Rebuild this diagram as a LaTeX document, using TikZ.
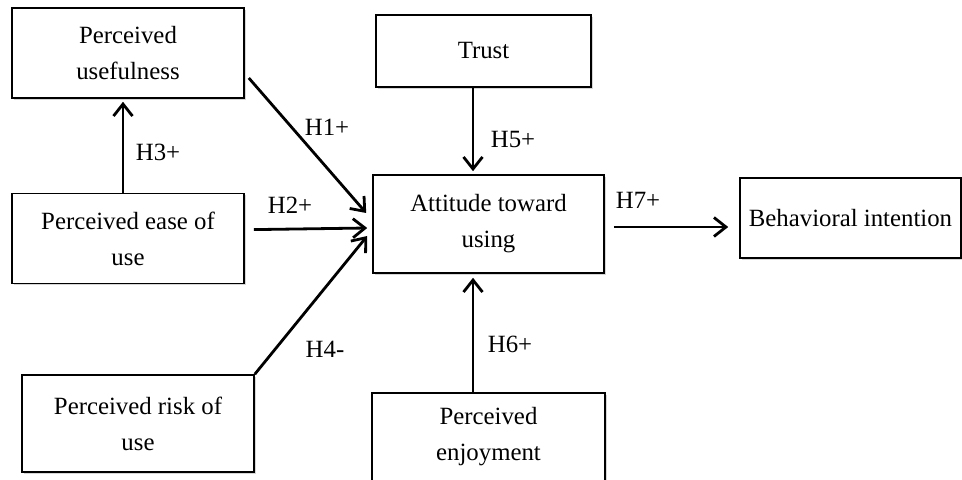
\documentclass[tikz,border=0pt]{standalone}
\usepackage{fontspec}
\setmainfont{Liberation Serif}
\usetikzlibrary{arrows.meta, positioning, shadows}
\definecolor{cShadow}{RGB}{120,120,120}
\tikzset{
	construct/.style={rectangle, draw=black, line width=0.8pt, fill=white, inner sep=0pt, align=center, text centered,
		drop shadow={shadow xshift=0.8pt, shadow yshift=-0.8pt, opacity=0.3, fill=cShadow}},
	hypo/.style     ={-{Straight Barb[length=6pt, width=9.5pt]}, line width=1.4pt},
	hlabel/.style   ={inner sep=1pt},
}
\begin{document}
\begin{tikzpicture}[x=0.5pt, y=-0.5pt, every node/.style={font=\fontsize{12.4}{18}\selectfont}]
	\useasboundingbox (0,0) rectangle (962,480);
	\node[construct, minimum width=116pt, minimum height=45pt] (pu) at (128,53) {Perceived\\ usefulness};
	\node[construct, minimum width=116pt, minimum height=45pt, below=47pt of pu] (peou) {Perceived ease of\\ use};
	\node[construct, minimum width=116pt, minimum height=48.5pt] (pru) at (138,423.5) {Perceived risk of\\ use};
	\node[construct, minimum width=115.5pt, minimum height=49pt] (atu) at (488.5,224) {Attitude toward\\ using};
	\node[construct, minimum width=107.5pt, minimum height=36pt] (trust) at (483.5,51) {Trust};
	\node[construct, minimum width=116.5pt, minimum height=44pt] (pe) at (488.5,437) {Perceived\\ enjoyment};
	\node[construct, minimum width=110.5pt, minimum height=40pt] (bi) at (850.5,218) {Behavioral intention};
	\draw[hypo] ([shift={(4,25)}]pu.east) -- ([shift={(-6,-11)}]atu.west);
	\draw[hypo] ([shift={(9,-9)}]peou.east) -- ([shift={(-5,4)}]atu.west);
	\draw[hypo] (pru.north east) -- ([shift={(-5,12)}]atu.west);
	\draw[hypo] ([shift={(-5,0)}]peou.north) -- ([shift={(-5,3)}]pu.south);
	\draw[hypo] ([shift={(-10.5,0)}]trust.south) -- ([shift={(-15.5,-3)}]atu.north);
	\draw[hypo] ([shift={(-15.5,0)}]pe.north) -- ([shift={(-15.5,4)}]atu.south);
	\draw[hypo] ([shift={(9,3)}]atu.east) -- ([shift={(-11,9)}]bi.west);
	\node[hlabel] (h1) at (327,127) {H1+};
	\node[hlabel] (h2) at (290,205) {H2+};
	\node[hlabel] (h3) at (158,152) {H3+};
	\node[hlabel] (h4) at (325,349) {H4-};
	\node[hlabel] (h5) at (513,140) {H5+};
	\node[hlabel] (h6) at (510,344) {H6+};
	\node[hlabel] (h7) at (638,200) {H7+};
\end{tikzpicture}
\end{document}
